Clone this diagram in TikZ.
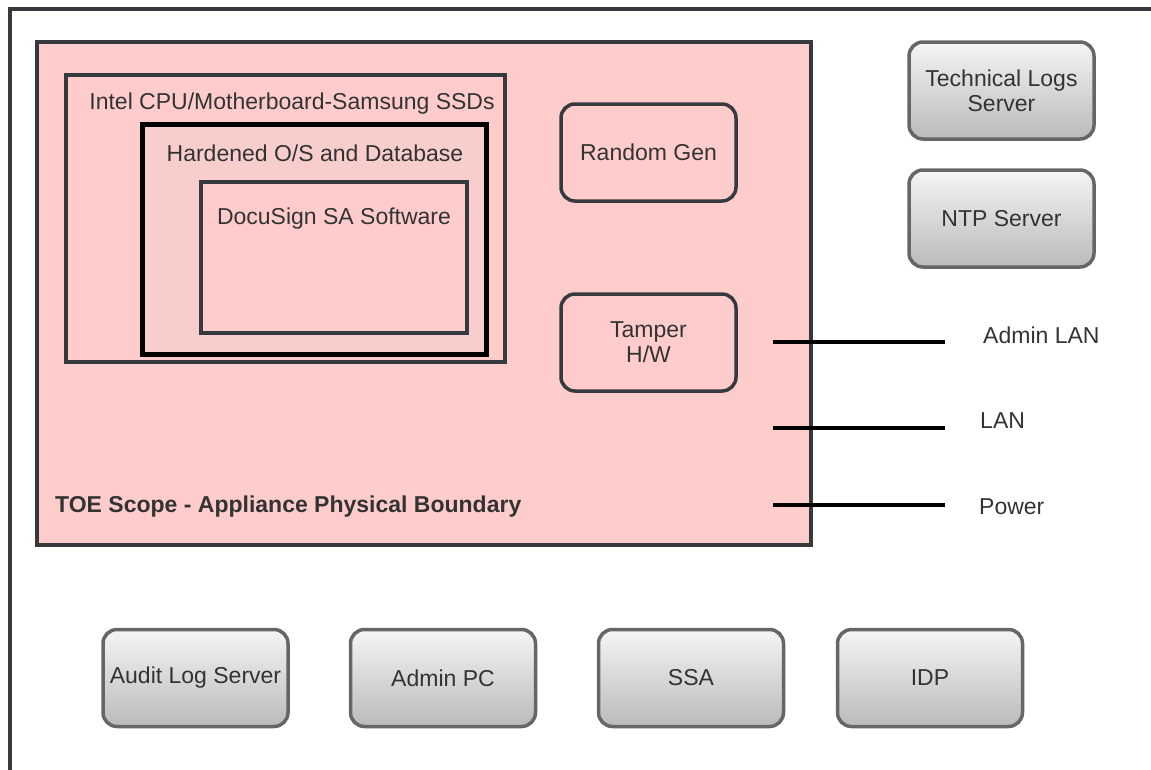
\documentclass[tikz,border=0pt]{standalone}
\usepackage{fontspec}
\setmainfont{Liberation Sans}
\usetikzlibrary{positioning}
\definecolor{toepink}{HTML}{FFCCCC}
\definecolor{ospink}{HTML}{F8CECC}
\definecolor{edgegray}{HTML}{36393D}
\definecolor{servergray}{HTML}{666666}
\definecolor{labelgray}{HTML}{333333}

\begin{document}
\begin{tikzpicture}[x=1pt, y=-1pt,
  every node/.style={font=\fontsize{23}{25}\selectfont, text=labelgray, inner sep=0pt},
  toebox/.style={draw=edgegray, line width=4pt, fill=toepink},
  hwbox/.style={draw=edgegray, line width=3.5pt, fill=toepink},
  osbox/.style={draw=black, line width=5pt, fill=ospink},
  swbox/.style={draw=edgegray, line width=4pt, fill=toepink},
  unitbox/.style={draw=edgegray, line width=3.5pt, fill=toepink, rounded corners=14pt,
    minimum width=175pt, minimum height=97pt, align=center},
  server/.style={draw=servergray, line width=3.5pt, rounded corners=14pt,
    top color=black!4, bottom color=black!27, minimum width=185pt, minimum height=97pt, align=center},
  port/.style={line width=4pt, black},
  portlabel/.style={anchor=west}
]
\useasboundingbox (0,0) rectangle (1151,769);
\draw [edgegray, line width=4.5pt] (10,775) |- (1160,9);

% appliance
\node [toebox, minimum width=774pt, minimum height=503pt] (toe) at (424,293.5) {};
\node [hwbox, minimum width=439pt, minimum height=287pt] (hw) at (285.5,218.5) {};
\node [osbox, minimum width=344pt, minimum height=230pt] (os) at (314.5,239) {};
\node [swbox, minimum width=266pt, minimum height=151pt] (sw) at (334,257.5) {};
\node [] (hwtext) at (292,104) {Intel CPU/Motherboard-Samsung SSDs};
\node [] (ostext) at (315,153) {Hardened O/S and Database};
\node [] (swtext) at (334,219) {DocuSign SA Software};
\node [anchor=west, font=\fontsize{23}{25}\selectfont\bfseries] (toetext) at (55,507) {TOE Scope - Appliance Physical Boundary};

\node [unitbox] (rng) at (648.5,152.5) {Random Gen};
\node [unitbox] (tamper) at (648.5,342.5) {Tamper\\H/W};

% interfaces
\coordinate (adminin) at (773,342);
\coordinate (adminout) at (945,342);
\coordinate (lanin) at (773,428);
\coordinate (lanout) at (945,428);
\coordinate (powerin) at (773,505);
\coordinate (powerout) at (945,505);
\draw [port] (adminin) -- (adminout);
\draw [port] (lanin) -- (lanout);
\draw [port] (powerin) -- (powerout);
\node [portlabel] (adminlabel) at (983,335) {Admin LAN};
\node [portlabel] (lanlabel) at (980,421) {LAN};
\node [portlabel] (powerlabel) at (979,507) {Power};

% external servers
\node [server] (techlogs) at (1001.5,90.5) {Technical Logs\\Server};
\node [server] (ntp) at (1001.5,218.5) {NTP Server};
\node [server] (auditlog) at (195.5,678) {Audit Log Server};
\node [server] (adminpc) at (443,678) {Admin PC};
\node [server] (ssa) at (691,678) {SSA};
\node [server] (idp) at (930,678) {IDP};
\end{tikzpicture}
\end{document}
